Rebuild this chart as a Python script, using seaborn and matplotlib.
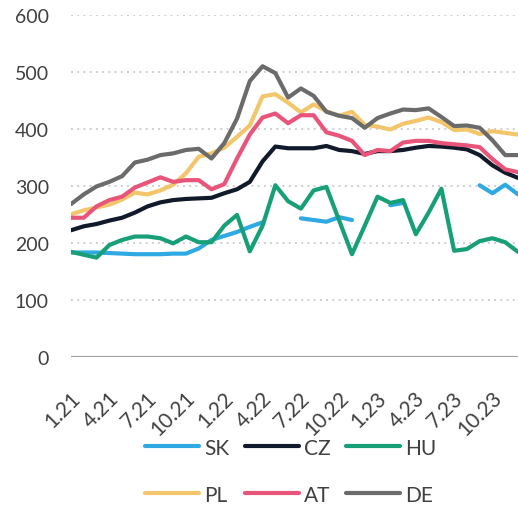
import numpy as np
import pandas as pd
import matplotlib
matplotlib.use("Agg")
import matplotlib.pyplot as plt
import matplotlib.transforms as mtransforms
from matplotlib.lines import Line2D
import seaborn as sns

# ----------------------------------------------------------
# data (monthly, 1.21 .. 12.23)
nan = np.nan
tick_pos = [0, 3, 6, 9, 12, 15, 18, 21, 24, 27, 30, 33]
tick_labels = ["1.21", "4.21", "7.21", "10.21", "1.22", "4.22",
               "7.22", "10.22", "1.23", "4.23", "7.23", "10.23"]

sk = [183, 183, 183, 182, 181, 180, 180, 180, 181, 181, 190, 205,
      212, 219, 228, 236, nan, nan, 243, 240, 237, 245, 240, nan,
      nan, 266, 270, nan, nan, nan, nan, nan, 301, 287, 302, 285]
cz = [222, 229, 233, 239, 244, 253, 264, 271, 275, 277, 278, 279,
      287, 294, 307, 343, 369, 366, 366, 366, 370, 363, 361, 356,
      361, 361, 363, 367, 370, 369, 367, 364, 354, 336, 323, 314]
hu = [184, 179, 174, 196, 205, 211, 211, 208, 199, 211, 201, 201,
      230, 249, 185, 230, 301, 273, 260, 292, 298, 239, 180, 230,
      281, 270, 275, 215, 253, 295, 186, 189, 203, 208, 201, 184]
pl = [250, 257, 262, 267, 276, 288, 285, 292, 302, 322, 351, 357,
      367, 386, 406, 457, 461, 446, 429, 443, 431, 423, 430, 407,
      404, 399, 409, 414, 420, 412, 398, 399, 391, 396, 393, 390]
at = [244, 244, 264, 275, 281, 297, 306, 315, 307, 310, 310, 294,
      303, 348, 390, 420, 427, 410, 424, 424, 394, 388, 379, 354,
      363, 361, 376, 379, 379, 375, 373, 371, 368, 347, 329, 324]
de = [268, 285, 299, 307, 317, 341, 346, 354, 357, 363, 365, 348,
      375, 418, 484, 510, 498, 455, 471, 458, 430, 423, 419, 402,
      419, 427, 434, 433, 436, 421, 405, 406, 402, 380, 354, 354]

countries = ["SK", "CZ", "HU", "PL", "AT", "DE"]
series = dict(zip(countries, [sk, cz, hu, pl, at, de]))
palette = {"SK": "#2ea9e1", "CZ": "#111a2b", "HU": "#17a078",
           "PL": "#f3c66c", "AT": "#e9557a", "DE": "#6b6b6b"}

# long format; each run without gaps gets its own unit so lines break at NaN
rows = []
for name, vals in series.items():
    seg, gap = 0, True
    for i, v in enumerate(vals):
        if np.isnan(v):
            gap = True
            continue
        if gap:
            seg += 1
            gap = False
        rows.append((name, f"{name}_{seg}", i, v))
df = pd.DataFrame(rows, columns=["country", "seg", "month", "value"])

# ----------------------------------------------------------
sns.set_style("white")
plt.rcParams["font.family"] = ["Lato", "DejaVu Sans"]
text_col = "#404040"

fig = plt.figure(figsize=(5.18, 5.06), dpi=100)
ax = fig.add_axes([71 / 518, 1 - 357.7 / 506, 1 - 71 / 518, (357.7 - 16) / 506])

sns.lineplot(data=df, x="month", y="value", hue="country", units="seg",
             estimator=None, sort=False, hue_order=countries, palette=palette,
             linewidth=3, ax=ax, legend=False)

ax.set_xlim(0, 35)
ax.set_ylim(0, 600)
ax.set_yticks(range(0, 700, 100))
ax.yaxis.grid(True, linestyle=(0, (1, 2.2)), color="#cfcfcf", linewidth=1.4)
ax.axhline(0, color="#a3a3a3", linewidth=1.6, zorder=1)
for s in ax.spines.values():
    s.set_visible(False)
ax.set_xlabel("")
ax.set_ylabel("")

ax.set_xticks(tick_pos)
ax.set_xticklabels(tick_labels, rotation=45, ha="right", va="top",
                   rotation_mode="anchor")
ax.tick_params(axis="x", length=0, pad=22, labelsize=15, labelcolor=text_col)
ax.tick_params(axis="y", length=0, pad=16, labelsize=14, labelcolor=text_col)
shift = mtransforms.ScaledTranslation(-1 / 100, 0, fig.dpi_scale_trans)
for lab in ax.get_xticklabels():
    lab.set_transform(lab.get_transform() + shift)

# legend: 2 rows x 3, matplotlib fills by column so reorder
order = ["SK", "PL", "CZ", "AT", "HU", "DE"]
handles = [Line2D([], [], color=palette[c], linewidth=3) for c in order]
fig.legend(handles, order, loc="center", bbox_to_anchor=(0.561, 0.067),
           ncol=3, frameon=False, fontsize=15, handlelength=2.6,
           handletextpad=0.25, columnspacing=0.72, labelspacing=1.3,
           labelcolor=text_col)

fig.savefig("out.png", dpi=100)
